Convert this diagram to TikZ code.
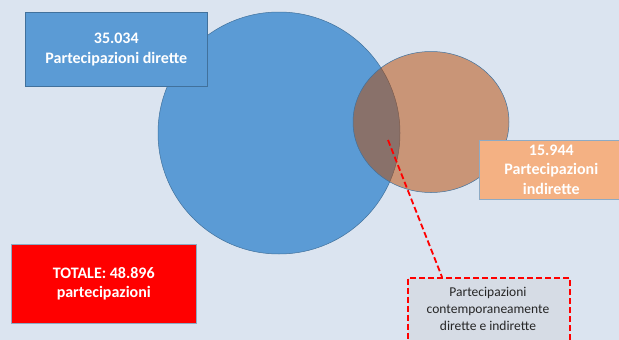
\documentclass[tikz,border=0pt]{standalone}
\usepackage{fontspec}
\setmainfont{Carlito}
\definecolor{bg}{RGB}{219,228,240}
\definecolor{cblue}{RGB}{91,155,213}
\definecolor{bblue}{RGB}{65,113,156}
\definecolor{corange}{RGB}{184,72,0}
\definecolor{lorange}{RGB}{244,177,131}
\definecolor{lgray}{RGB}{214,220,229}
\begin{document}
\begin{tikzpicture}[x=1pt,y=-1pt,
  lbl/.style={font=\fontsize{16}{19.5}\selectfont\bfseries, text=white, align=center, inner sep=0pt},
  boxs/.style={draw=bblue, line width=0.6pt}]
\useasboundingbox (0,0) rectangle (619,340);
\fill[bg] (0,0) rectangle (619,340);
% circles
\fill[cblue] (279,133) circle [radius=121];
\draw[bblue, line width=0.5pt] (279,133) circle [radius=121];
\fill[corange, fill opacity=0.5] (431,122) ellipse [x radius=78, y radius=70.5];
\draw[bblue, line width=0.5pt] (431,122) ellipse [x radius=78, y radius=70.5];
% boxes
\node[boxs, fill=cblue, minimum width=182pt, minimum height=74pt, anchor=north west, lbl] (dir) at (25,12) {35.034\\Partecipazioni dirette};
\node[boxs, draw=bblue!60, fill=lorange, minimum width=144pt, minimum height=59pt, anchor=north west, lbl] (ind) at (479,140) {15.944\\Partecipazioni\\indirette};
\node[draw=bblue!60, line width=0.6pt, fill=red, minimum width=185pt, minimum height=79pt, anchor=north west, lbl] (tot) at (11,244) {TOTALE: 48.896\\partecipazioni};
\node[draw=red, dash pattern=on 6pt off 3pt, line width=1.8pt, fill=lgray, minimum width=162pt, minimum height=80pt, anchor=north west, inner sep=0pt] (both) at (407,277) {};
\node[font=\fontsize{13.5}{17}\selectfont, align=center, text=black!85, anchor=north, inner sep=0pt] (btxt) at (488,287) {Partecipazioni\\contemporaneamente\\dirette e indirette};
\coordinate (s) at (388,140);
\coordinate (e) at (442,277);
\draw[red, line width=1.8pt, dash pattern=on 6pt off 3pt] (s) -- (e);
\end{tikzpicture}
\end{document}
